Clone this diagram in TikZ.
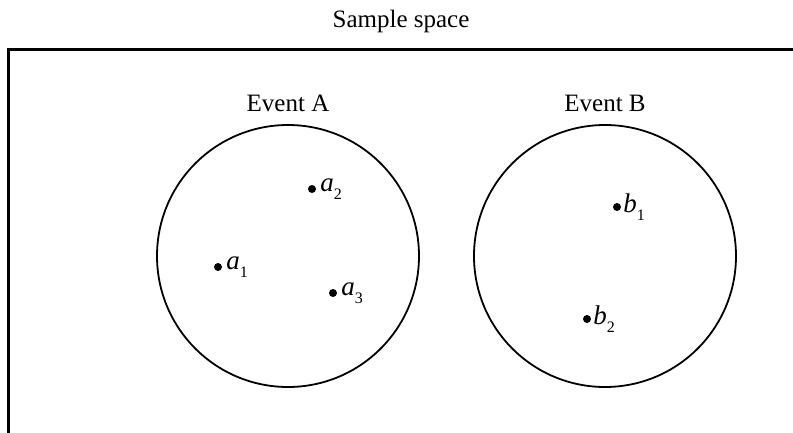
\documentclass[tikz,border=0pt]{standalone}
\usepackage{fontspec}
\setmainfont{Liberation Serif}
\usetikzlibrary{positioning}
\newcommand{\ix}[1]{\raisebox{-8pt}{\fontsize{16}{18}\selectfont\upshape #1}}

\begin{document}
\begin{tikzpicture}[
    x=1pt, y=-1pt,
    frame/.style={draw, line width=3pt},
    event/.style={circle, draw, line width=1.8pt, minimum size=262pt, inner sep=0pt},
    pt/.style={circle, fill, inner sep=0pt, minimum size=8pt},
    lbl/.style={font=\fontsize{25}{30}\selectfont, inner sep=0pt},
    elem/.style={font=\fontsize{27}{30}\selectfont\itshape, inner sep=0pt}
  ]
  \useasboundingbox (0,0) rectangle (793,433);
  % sample space frame
  \coordinate (fbl) at (8,433);
  \coordinate (ftl) at (8,50);
  \coordinate (ftr) at (793,50);
  \draw[frame] (fbl) -- (ftl) -- (ftr);
  \node[lbl, anchor=base] (space) at (401,28) {Sample space};
  % events
  \node[event] (evA) at (288,256) {};
  \node[event] (evB) at (605,256) {};
  \node[lbl, above=12pt of evA] (evAlbl) {Event A};
  \node[lbl, above=12pt of evB] (evBlbl) {Event B};
  % outcomes
  \node[pt] (a1) at (218,267) {};
  \node[pt] (a2) at (312,189) {};
  \node[pt] (a3) at (333,293) {};
  \node[pt] (b1) at (617,207) {};
  \node[pt] (b2) at (587,319) {};
  \node[elem, right=4pt of a1] (a1lbl) {a\ix{1}};
  \node[elem, right=4pt of a2] (a2lbl) {a\ix{2}};
  \node[elem, right=4pt of a3] (a3lbl) {a\ix{3}};
  \node[elem, right=2pt of b1] (b1lbl) {b\ix{1}};
  \node[elem, right=2pt of b2] (b2lbl) {b\ix{2}};
\end{tikzpicture}
\end{document}
